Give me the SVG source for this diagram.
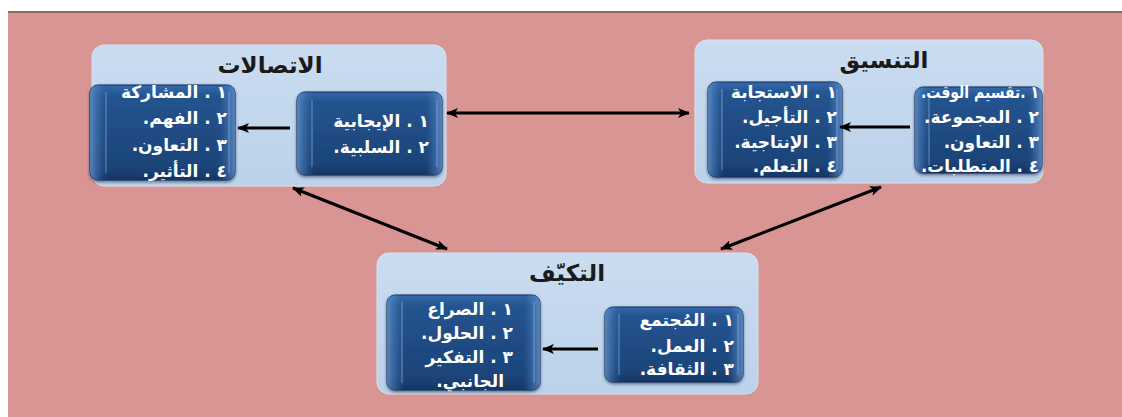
<svg xmlns="http://www.w3.org/2000/svg" width="1122" height="417" viewBox="0 0 1122 417">
<defs>
<linearGradient id="cont" x1="0" y1="0" x2="0" y2="1">
<stop offset="0" stop-color="#cadcf0"/>
<stop offset="1" stop-color="#bcd2ea"/>
</linearGradient>
<linearGradient id="boxv" x1="0" y1="0" x2="0" y2="1">
<stop offset="0" stop-color="#3468ad"/>
<stop offset="0.12" stop-color="#24548f"/>
<stop offset="0.85" stop-color="#1c4479"/>
<stop offset="1" stop-color="#163766"/>
</linearGradient>
<linearGradient id="boxh" x1="0" y1="0" x2="1" y2="0">
<stop offset="0" stop-color="#6f9fd6" stop-opacity="0.7"/>
<stop offset="0.07" stop-color="#4a7fc0" stop-opacity="0.3"/>
<stop offset="0.12" stop-color="#2a5a98" stop-opacity="0"/>
<stop offset="0.88" stop-color="#2a5a98" stop-opacity="0"/>
<stop offset="0.93" stop-color="#4a7fc0" stop-opacity="0.3"/>
<stop offset="1" stop-color="#6f9fd6" stop-opacity="0.7"/>
</linearGradient>
<marker id="ah" viewBox="0 0 12 10" refX="11" refY="5" markerWidth="12" markerHeight="10" markerUnits="userSpaceOnUse" orient="auto-start-reverse">
<path d="M0,0 L12,5 L0,10 L3,5 Z" fill="#000"/>
</marker>
<filter id="sh" x="-10%" y="-10%" width="120%" height="130%">
<feDropShadow dx="0" dy="1.5" stdDeviation="1.5" flood-color="#0b1f3f" flood-opacity="0.6"/>
</filter>
</defs>
<style>
.cont{fill:url(#cont);stroke:#d6e3f2;stroke-width:1}
.box{fill:url(#boxv);stroke:#112d57;stroke-width:1}
.bev{fill:url(#boxh)}
.edge{stroke:#8fb4e0;stroke-width:1.2;stroke-opacity:0.55}
.title{font-family:"DejaVu Sans",sans-serif;font-weight:bold;font-size:23px;fill:#1a1a1a;text-anchor:middle}
.it{font-family:"DejaVu Sans",sans-serif;font-weight:bold;font-size:17px;fill:#ffffff;direction:rtl;text-anchor:start}
.conn{stroke:#000;stroke-width:3;fill:none}
</style>
<rect x="0" y="0" width="1122" height="417" fill="#ffffff"/>
<rect x="8" y="11" width="1114" height="406" fill="#d99593"/>
<rect x="8" y="11" width="1114" height="2" fill="#8e6b62"/>

<g id="node-communications">
<rect class="cont" x="92" y="45" width="354" height="141" rx="12"/>
<text class="title" x="270" y="73">الاتصالات</text>
<g id="comm-left" filter="url(#sh)">
<rect class="box" x="90" y="85" width="145" height="95" rx="8"/>
<rect class="bev" x="90" y="85" width="145" height="95" rx="8"/>
</g>
<line class="edge" x1="106" y1="92" x2="106" y2="173"/>
<line class="edge" x1="229" y1="92" x2="229" y2="173"/>
<text class="it" x="227" y="98">١ . المشاركة</text>
<text class="it" x="227" y="124">٢ . الفهم.</text>
<text class="it" x="227" y="151">٣ . التعاون.</text>
<text class="it" x="227" y="177">٤ . التأثير.</text>
<g id="comm-right" filter="url(#sh)">
<rect class="box" x="297" y="92" width="145" height="83" rx="8"/>
<rect class="bev" x="297" y="92" width="145" height="83" rx="8"/>
</g>
<line class="edge" x1="312" y1="100" x2="312" y2="167"/>
<line class="edge" x1="437" y1="100" x2="437" y2="167"/>
<text class="it" x="429" y="127">١ . الإيجابية</text>
<text class="it" x="429" y="153">٢ . السلبية.</text>
</g>

<g id="node-coordination">
<rect class="cont" x="695" y="40" width="348" height="143" rx="12"/>
<text class="title" x="884" y="68">التنسيق</text>
<g id="coord-left" filter="url(#sh)">
<rect class="box" x="708" y="82" width="134" height="95" rx="8"/>
<rect class="bev" x="708" y="82" width="134" height="95" rx="8"/>
</g>
<line class="edge" x1="722" y1="89" x2="722" y2="170"/>
<line class="edge" x1="837" y1="89" x2="837" y2="170"/>
<text class="it" x="837" y="98">١ . الاستجابة</text>
<text class="it" x="837" y="123">٢ . التأجيل.</text>
<text class="it" x="837" y="148">٣ . الإنتاجية.</text>
<text class="it" x="837" y="172">٤ . التعلم.</text>
<g id="coord-right" filter="url(#sh)">
<rect class="box" x="915" y="87" width="127" height="86" rx="8"/>
<rect class="bev" x="915" y="87" width="127" height="86" rx="8"/>
</g>
<line class="edge" x1="929" y1="95" x2="929" y2="165"/>
<text class="it" x="1039" y="98" textLength="118" lengthAdjust="spacingAndGlyphs">١ .تقسيم الوقت.</text>
<text class="it" x="1039" y="123">٢ . المجموعة.</text>
<text class="it" x="1039" y="148">٣ . التعاون.</text>
<text class="it" x="1039" y="172" textLength="118" lengthAdjust="spacingAndGlyphs">٤ . المتطلبات.</text>
</g>

<g id="node-adaptation">
<rect class="cont" x="377" y="253" width="381" height="141" rx="12"/>
<text class="title" x="567" y="281">التكيّف</text>
<g id="adapt-left" filter="url(#sh)">
<rect class="box" x="387" y="295" width="153" height="95" rx="8"/>
<rect class="bev" x="387" y="295" width="153" height="95" rx="8"/>
</g>
<line class="edge" x1="402" y1="302" x2="402" y2="383"/>
<line class="edge" x1="534" y1="302" x2="534" y2="383"/>
<text class="it" x="513" y="315">١ . الصراع</text>
<text class="it" x="513" y="339">٢ . الحلول.</text>
<text class="it" x="513" y="363">٣ . التفكير</text>
<text class="it" x="504" y="387">الجانبي.</text>
<g id="adapt-right" filter="url(#sh)">
<rect class="box" x="605" y="307" width="138" height="75" rx="8"/>
<rect class="bev" x="605" y="307" width="138" height="75" rx="8"/>
</g>
<line class="edge" x1="619" y1="314" x2="619" y2="375"/>
<line class="edge" x1="738" y1="314" x2="738" y2="375"/>
<text class="it" x="734" y="326">١ . المُجتمع</text>
<text class="it" x="734" y="352">٢ . العمل.</text>
<text class="it" x="734" y="375">٣ . الثقافة.</text>
</g>

<g id="connectors">
<line class="conn" x1="447" y1="113" x2="689" y2="113" marker-start="url(#ah)" marker-end="url(#ah)"/>
<line class="conn" x1="293" y1="188" x2="447" y2="249" marker-start="url(#ah)" marker-end="url(#ah)"/>
<line class="conn" x1="881" y1="187" x2="721" y2="249" marker-start="url(#ah)" marker-end="url(#ah)"/>
<line class="conn" x1="290" y1="128" x2="238" y2="128" marker-end="url(#ah)"/>
<line class="conn" x1="910" y1="127" x2="840" y2="127" marker-end="url(#ah)"/>
<line class="conn" x1="598" y1="349" x2="543" y2="349" marker-end="url(#ah)"/>
</g>
</svg>
